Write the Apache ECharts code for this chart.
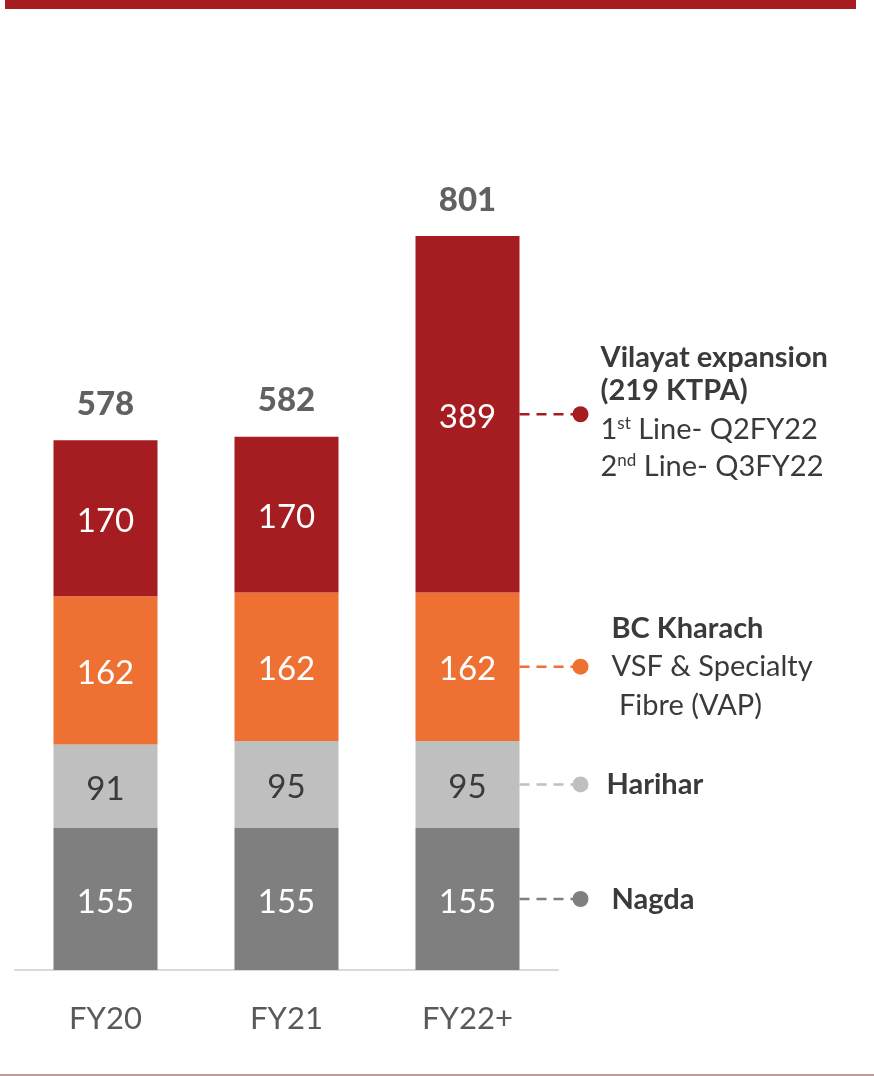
<!DOCTYPE html>
<html>
<head>
<meta charset="utf-8">
<script src="https://cdn.jsdelivr.net/npm/echarts@6/dist/echarts.min.js"></script>
<style>
  html, body { margin: 0; padding: 0; background: #fff; }
  #main { width: 874px; height: 1076px; }
</style>
</head>
<body>
<div id="main"></div>
<script>
// capacity by site, KTPA
var categories = ['FY20', 'FY21', 'FY22+'];
var nagda = [155, 155, 155];
var harihar = [91, 95, 95];
var bcKharach = [162, 162, 162];
var vilayat = [170, 170, 389];
var totals = [578, 582, 801];

var FONT = 'Lato, "Open Sans", sans-serif';
var BAR_W = 104;
var RED = '#a51c21', ORANGE = '#ee7033', LIGHT = '#bfbfbf', DARK = '#7f7f7f';
var TXT = '#3a3a3a';

function segLabel(color) {
  return {
    show: true,
    position: 'inside',
    offset: [0, 3],
    color: color,
    fontFamily: FONT,
    fontSize: 33
  };
}

function barSeries(name, data, color, labelColor) {
  return {
    name: name,
    type: 'bar',
    stack: 'cap',
    barWidth: BAR_W,
    data: data,
    itemStyle: { color: color },
    label: segLabel(labelColor)
  };
}

var chart = echarts.init(document.getElementById('main'));

var option = {
  animation: false,
  backgroundColor: '#fff',
  grid: { left: 15, right: 316, top: 236, bottom: 106, outerBoundsMode: 'none' },
  xAxis: {
    type: 'category',
    data: categories,
    axisLine: { lineStyle: { color: '#d9d9d9', width: 2 } },
    axisTick: { show: false },
    axisLabel: { color: '#595959', fontFamily: FONT, fontSize: 31, margin: 33 }
  },
  yAxis: { type: 'value', min: 0, max: 801, show: false, splitLine: { show: false } },
  series: [
    barSeries('Nagda', nagda, DARK, '#fff'),
    barSeries('Harihar', harihar, LIGHT, TXT),
    barSeries('BC Kharach', bcKharach, ORANGE, '#fff'),
    barSeries('Vilayat', vilayat, RED, '#fff'),
    {
      name: 'Total',
      type: 'scatter',
      data: totals,
      symbolSize: 1,
      itemStyle: { color: 'transparent' },
      label: {
        show: true,
        position: 'top',
        distance: 19,
        color: TXT,
        fontFamily: FONT,
        fontWeight: 900,
        fontSize: 33
      }
    }
  ]
};
chart.setOption(option);

// callouts next to the last bar
var callouts = [
  { k: 3, color: RED, lines: [
    { text: 'Vilayat expansion', bold: true, dx: 20, dy: -57 },
    { text: '(219 KTPA)', bold: true, dx: 20, dy: -24 },
    { text: '{n|1}{s|st}{n| Line- Q2FY22}', dx: 20, dy: 15 },
    { text: '{n|2}{s|nd}{n| Line- Q3FY22}', dx: 20, dy: 52 }
  ] },
  { k: 2, color: ORANGE, lines: [
    { text: 'BC Kharach', bold: true, dx: 31, dy: -38 },
    { text: 'VSF & Specialty', dx: 31, dy: 0 },
    { text: ' Fibre (VAP)', dx: 31, dy: 39 }
  ] },
  { k: 1, color: LIGHT, lines: [
    { text: 'Harihar', bold: true, dx: 26, dy: 0 }
  ] },
  { k: 0, color: DARK, lines: [
    { text: 'Nagda', bold: true, dx: 31, dy: 1 }
  ] }
];

var stacks = [nagda, harihar, bcKharach, vilayat];
var last = categories.length - 1;
function segMid(k) {
  var base = 0;
  for (var i = 0; i < k; i++) base += stacks[i][last];
  return base + stacks[k][last] / 2;
}

var graphics = [
  { type: 'rect', shape: { x: 5, y: 0, width: 851, height: 9 }, style: { fill: RED } },
  { type: 'line', shape: { x1: 0, y1: 1075, x2: 874, y2: 1075 }, style: { stroke: '#bf9a9a', lineWidth: 2 } }
];

callouts.forEach(function (c) {
  var p = chart.convertToPixel({ xAxisIndex: 0, yAxisIndex: 0 }, [categories[last], segMid(c.k)]);
  var x0 = p[0] + BAR_W / 2;
  var dotX = x0 + 61;
  var y = p[1];
  graphics.push({
    type: 'line',
    shape: { x1: x0, y1: y, x2: dotX, y2: y },
    style: { stroke: c.color, lineWidth: 2.5, lineDash: [10, 7] }
  });
  graphics.push({
    type: 'circle',
    shape: { cx: dotX, cy: y, r: 8 },
    style: { fill: c.color }
  });
  c.lines.forEach(function (l) {
    graphics.push({
      type: 'text',
      x: dotX + l.dx,
      y: y + l.dy,
      style: {
        text: l.text,
        fill: TXT,
        fontFamily: FONT,
        fontSize: 29,
        fontWeight: l.bold ? 'bold' : 'normal',
        verticalAlign: 'middle',
        align: 'left',
        rich: {
          n: { fontFamily: FONT, fontSize: 29, fill: TXT },
          s: { fontFamily: FONT, fontSize: 17, fill: TXT, verticalAlign: 'top' }
        }
      }
    });
  });
});

chart.setOption({ graphic: graphics });
</script>
</body>
</html>
